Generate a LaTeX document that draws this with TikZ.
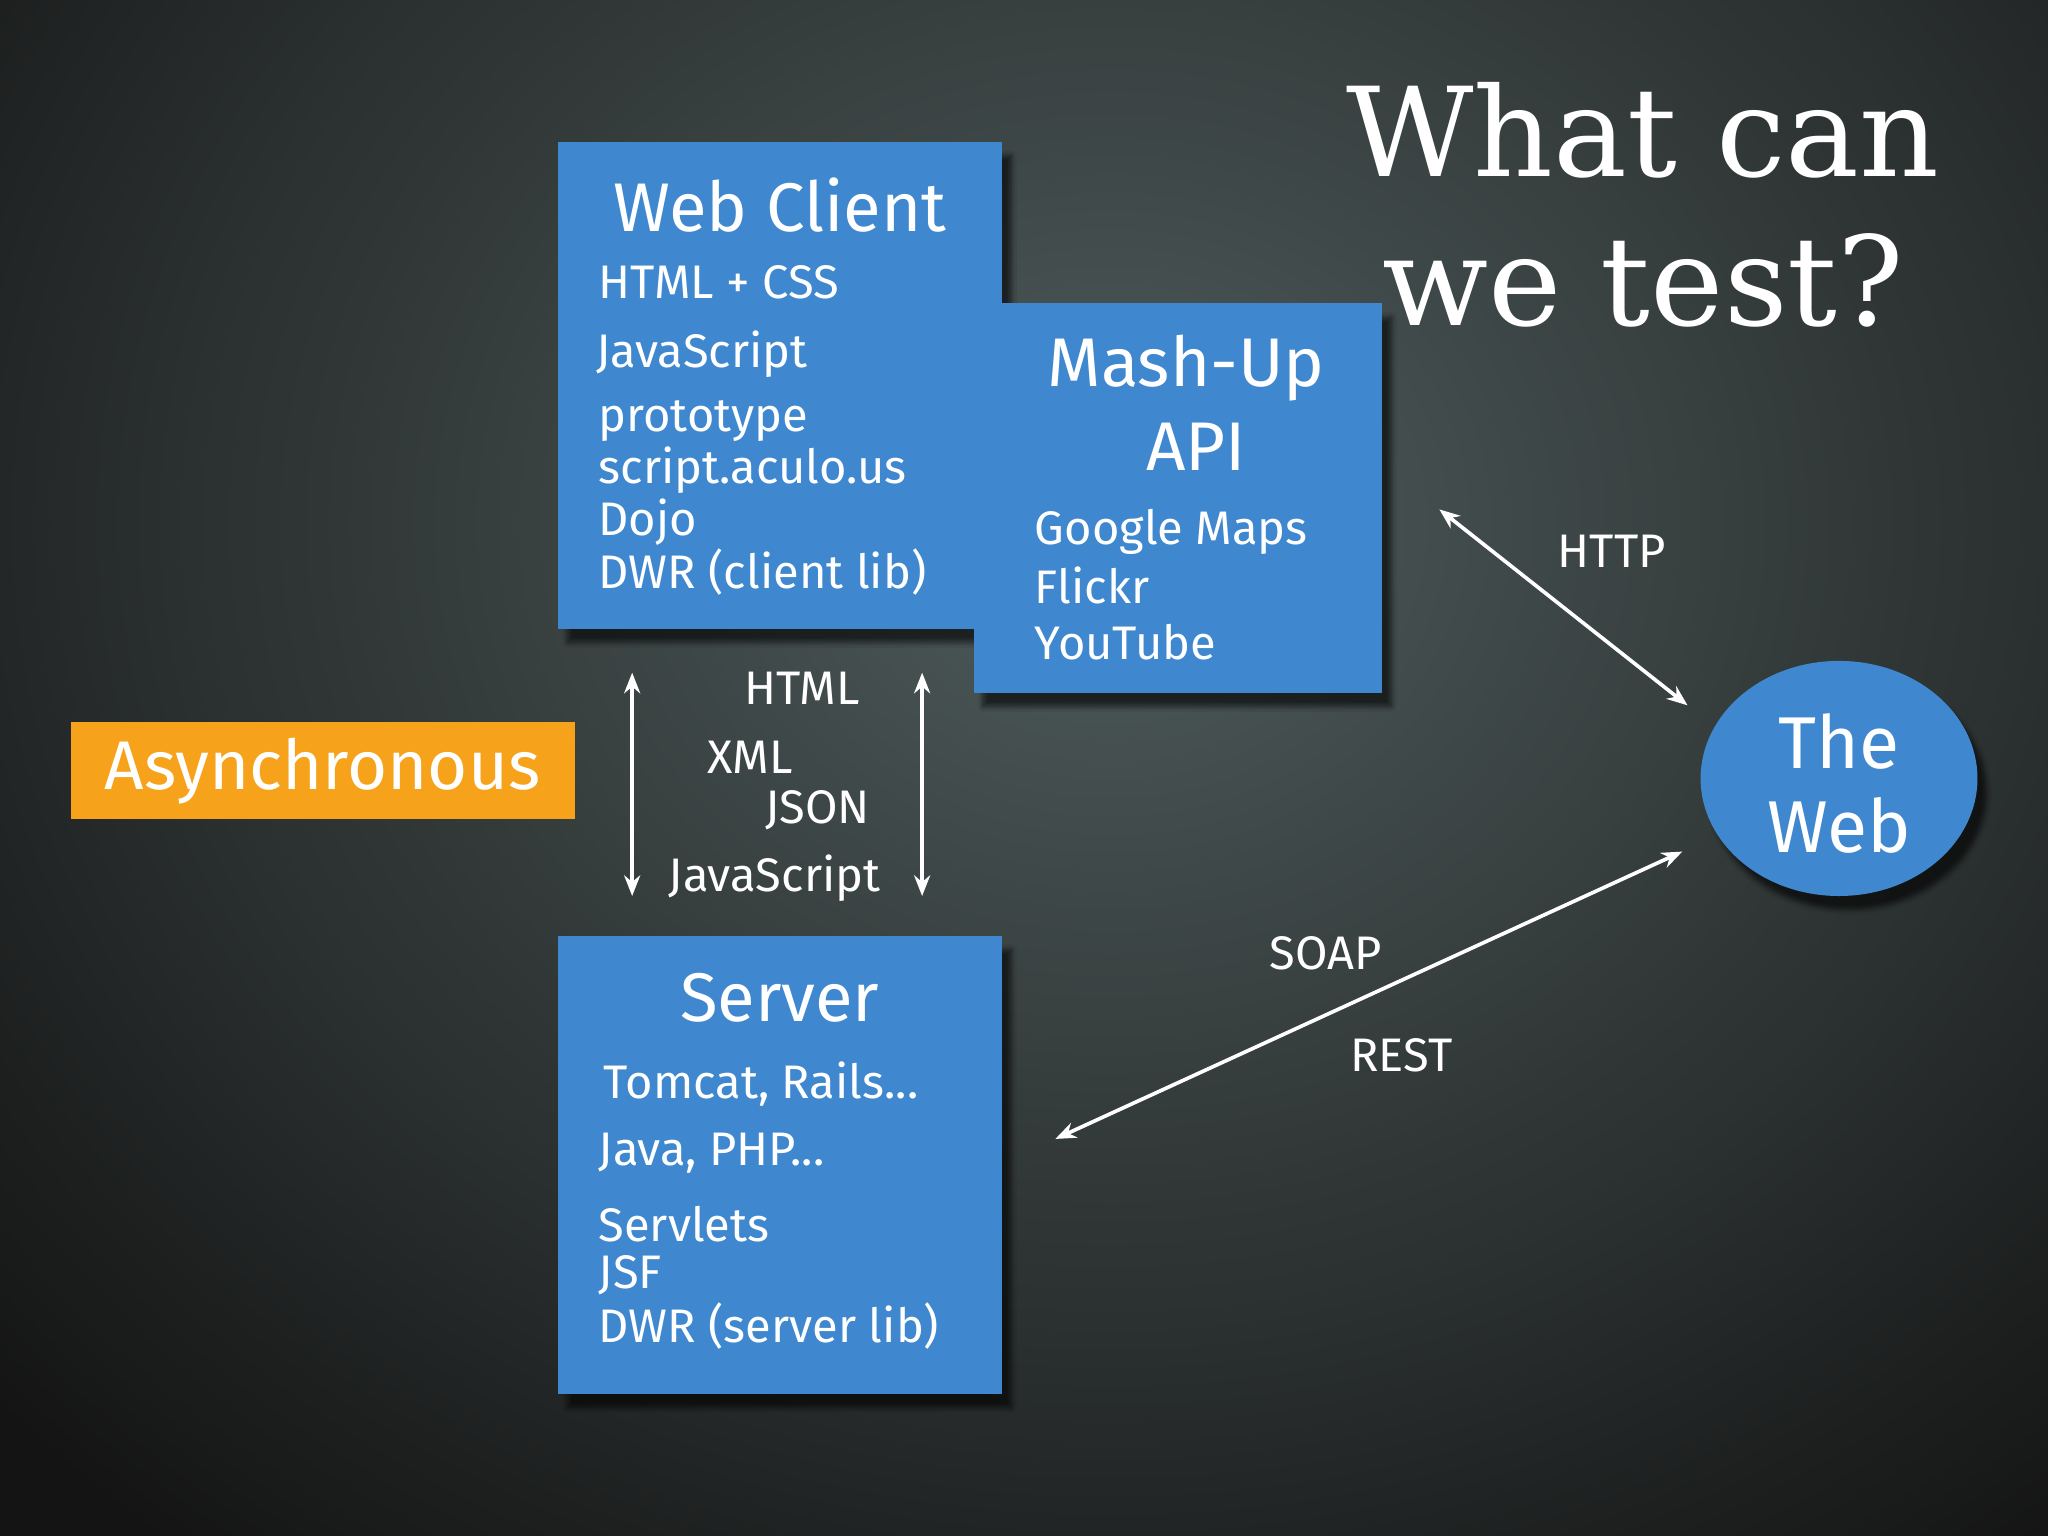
\documentclass[tikz,border=0pt]{standalone}
\usepackage{fontspec}
\setmainfont{Fira Sans}
\newfontfamily\typew{DejaVu Serif}
\usetikzlibrary{shadows.blur,arrows.meta,shapes.geometric}
\definecolor{boxblue}{HTML}{3F88CF}
\definecolor{asyorange}{HTML}{F7A21B}
\tikzset{
 P/.style={x=0.02cm,y=-0.02cm},
 bluebox/.style={fill=boxblue,draw=none,blur shadow={shadow xshift=4pt,shadow yshift=-6pt,shadow blur steps=10,shadow opacity=60}},
 item/.style={text=white,anchor=west,inner sep=0pt,font=\fontsize{20.5}{24}\selectfont},
 ttl/.style={text=white,inner sep=0pt,font=\fontsize{30}{34}\selectfont},
 lbl/.style={text=white,inner sep=0pt,font=\fontsize{20.5}{24}\selectfont},
 dar/.style={white,line width=1.6pt,{Stealth[length=9pt,width=7pt]}-{Stealth[length=9pt,width=7pt]}}
}
\begin{document}
\begin{tikzpicture}[P]
\useasboundingbox (0,0) rectangle (1568,1176);
\shade[inner color=black!35!gray!95!cyan, outer color=black!92] (-300,-600) rectangle (2000,1400);
% Web client
\node[bluebox,minimum width=340*0.02cm,minimum height=373*0.02cm,anchor=north west] (wc) at (427,108) {};
\node[ttl] (wct) at (597,157) {Web Client};
\node[item] (w1) at (458,216) {HTML + CSS};
\node[item] (w2) at (456,271) {JavaScript};
\node[item] (w3) at (458,322) {prototype};
\node[item] (w4) at (458,360) {script.aculo.us};
\node[item] (w5) at (458,400) {Dojo};
\node[item] (w6) at (458,438) {DWR (client lib)};
% Mashup
\node[bluebox,minimum width=313*0.02cm,minimum height=298*0.02cm,anchor=north west] (mu) at (745,232) {};
\node[ttl] (mut1) at (908,282) {Mash-Up};
\node[ttl] (mut2) at (916,342) {API};
\node[item] (m1) at (792,407) {Google Maps};
\node[item] (m2) at (792,448) {Flickr};
\node[item] (m3) at (792,492) {YouTube};
% Server
\node[bluebox,minimum width=340*0.02cm,minimum height=351*0.02cm,anchor=north west] (sv) at (427,716) {};
\node[ttl] (svt) at (597,764) {Server};
\node[item] (s1) at (462,830) {Tomcat, Rails...};
\node[item] (s2) at (458,883) {Java, PHP...};
\node[item] (s3) at (458,937) {Servlets};
\node[item] (s4) at (458,976) {JSF};
\node[item] (s5) at (458,1015) {DWR (server lib)};
% Asynchronous
\node[fill=asyorange,minimum width=386*0.02cm,minimum height=74*0.02cm,text=white,font=\fontsize{30}{34}\selectfont,inner sep=0pt] (asy) at (247,590) {Asynchronous};
% vertical arrows
\coordinate (a1t) at (484,515); \coordinate (a1b) at (484,686);
\coordinate (a2t) at (706,515); \coordinate (a2b) at (706,686);
\draw[dar] (a1t) -- (a1b);
\draw[dar] (a2t) -- (a2b);
\node[lbl] (l1) at (614,527) {HTML};
\node[lbl] (l2) at (574,580) {XML};
\node[lbl] (l3) at (626,620) {JSON};
\node[lbl] (l4) at (593,672) {JavaScript};
% The web
\node[ellipse,fill=boxblue,minimum width=212*0.02cm,minimum height=180*0.02cm,blur shadow={shadow xshift=4pt,shadow yshift=-6pt,shadow opacity=60},inner sep=0pt] (web) at (1408,596) {};
\node[ttl,font=\fontsize{32}{36}\selectfont] (wb1) at (1408,568) {The};
\node[ttl,font=\fontsize{32}{36}\selectfont] (wb2) at (1408,632) {Web};
\coordinate (h1) at (1102,390); \coordinate (h2) at (1292,540);
\draw[dar] (h1) -- (h2);
\node[lbl] (http) at (1234,422) {HTTP};
\coordinate (r1) at (808,872); \coordinate (r2) at (1288,652);
\draw[dar] (r1) -- (r2);
\node[lbl] (soap) at (1015,730) {SOAP};
\node[lbl] (rest) at (1073,808) {REST};
% title
\node[text=white,inner sep=0pt,font=\typew\fontsize{54}{60}\selectfont] (t1) at (1258,100) {What can};
\node[text=white,inner sep=0pt,font=\typew\fontsize{54}{60}\selectfont] (t2) at (1258,215) {we test?};
\end{tikzpicture}
\end{document}
